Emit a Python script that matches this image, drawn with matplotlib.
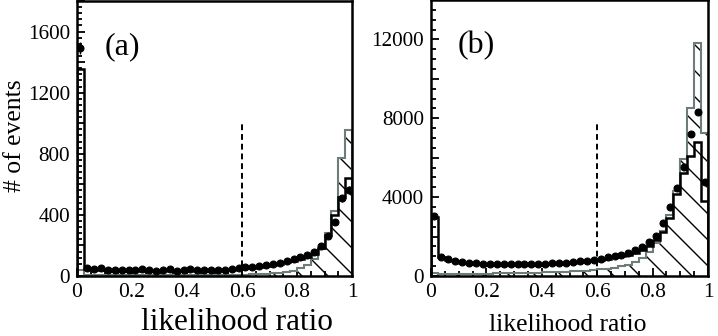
import matplotlib

matplotlib.use("Agg")

import matplotlib.pyplot as plt
import numpy as np
from matplotlib.ticker import FuncFormatter, MultipleLocator


# 40 bins of likelihood ratio, width 0.025
BIN_EDGES = np.linspace(0.0, 1.0, 41)

# panel (a)
DATA_A = [
    1490, 55, 45, 52, 42, 40, 42, 38, 40, 48,
    40, 34, 42, 44, 32, 40, 44, 38, 40, 42,
    40, 42, 48, 52, 62, 58, 65, 70, 78, 88,
    98, 110, 122, 140, 160, 195, 265, 355, 510, 565,
]
TOTAL_A = [
    1355, 45, 40, 42, 38, 36, 38, 35, 36, 40,
    36, 34, 36, 38, 34, 35, 38, 36, 36, 38,
    38, 40, 42, 46, 52, 55, 60, 65, 72, 80,
    90, 100, 112, 125, 145, 185, 270, 400, 520, 640,
]
SIGNAL_A = [
    40, 6, 6, 6, 6, 6, 6, 6, 6, 6,
    6, 6, 6, 6, 6, 6, 6, 6, 6, 6,
    6, 7, 7, 8, 9, 10, 12, 14, 17, 20,
    25, 32, 50, 75, 110, 180, 280, 425, 775, 955,
]

# panel (b)
DATA_B = [
    3050, 980, 850, 770, 710, 670, 640, 620, 605, 600,
    595, 590, 590, 595, 600, 610, 625, 640, 660, 680,
    710, 740, 780, 830, 880, 940, 1010, 1090, 1180, 1300,
    1460, 1700, 2050, 2700, 3500, 4450, 5550, 7200, 8300, 4750,
]
TOTAL_B = [
    3000, 950, 820, 740, 680, 640, 610, 590, 575, 570,
    565, 560, 560, 565, 570, 580, 595, 610, 630, 650,
    675, 705, 740, 780, 830, 880, 940, 1010, 1090, 1190,
    1330, 1530, 1820, 2250, 2950, 4150, 5200, 6070, 6800, 3780,
]
SIGNAL_B = [
    160, 110, 105, 105, 108, 112, 116, 120, 125, 130,
    136, 142, 150, 158, 166, 175, 185, 196, 208, 222,
    238, 256, 276, 300, 330, 370, 420, 490, 580, 710,
    900, 1200, 1650, 2300, 3100, 4300, 5950, 8520, 11800, 7250,
]

CUT_VALUE = 0.6
GRAY = "#6f7c7c"

# render at 78 dpi so a single hatch gives the denser line spacing of the
# original; every point size is scaled to keep pixel sizes unchanged
DPI = 78
S = 100 / DPI

plt.rcParams["font.family"] = ["Liberation Serif", "DejaVu Serif"]
plt.rcParams["hatch.linewidth"] = 1.0 * S


def draw_panel(axis, data, total, signal, ymax, cut_top, major, minor, label_step, tag):
    """Histogram panel with hatched signal, total outline and data points."""

    centers = 0.5 * (BIN_EDGES[:-1] + BIN_EDGES[1:])
    data = np.asarray(data, dtype=float)

    axis.stairs(signal, BIN_EDGES, fill=True, facecolor="none",
                edgecolor="black", hatch="\\", linewidth=0, zorder=1)
    axis.stairs(signal, BIN_EDGES, color=GRAY, linewidth=1.5 * S, zorder=2)
    axis.stairs(total, BIN_EDGES, color="black", linewidth=1.8 * S, zorder=3)
    axis.errorbar(centers, data, yerr=np.sqrt(data), fmt="o", color="black",
                  markersize=5 * S, elinewidth=1.0 * S, capsize=0, zorder=4)

    axis.plot([CUT_VALUE, CUT_VALUE], [0, cut_top], color="black",
              linestyle=(0, (3, 2)), linewidth=1.4 * S, zorder=5)

    axis.set_xlim(0, 1)
    axis.set_ylim(0, ymax)

    axis.xaxis.set_major_locator(MultipleLocator(0.2))
    axis.xaxis.set_minor_locator(MultipleLocator(0.05))
    axis.yaxis.set_major_locator(MultipleLocator(major))
    axis.yaxis.set_minor_locator(MultipleLocator(minor))
    axis.xaxis.set_major_formatter(FuncFormatter(lambda v, p: f"{v:g}"))
    axis.yaxis.set_major_formatter(FuncFormatter(
        lambda v, p: f"{v:.0f}" if round(v) % label_step == 0 else ""))

    axis.tick_params(which="both", direction="in", top=False, right=False,
                     width=1.3 * S, pad=5 * S)
    axis.tick_params(axis="x", labelsize=15.5 * S)
    axis.tick_params(axis="y", labelsize=15.2 * S)
    axis.tick_params(which="major", length=6 * S)
    axis.tick_params(which="minor", length=3.5 * S)
    for spine in axis.spines.values():
        spine.set_linewidth(1.8 * S)

    axis.text(0.165, 0.835, tag, transform=axis.transAxes, fontsize=23 * S,
              ha="center", va="center")


def main():
    fig = plt.figure(figsize=(718 / DPI, 336 / DPI), dpi=DPI)
    ax_a = fig.add_axes([77 / 718, 1 - 276 / 336, 275 / 718, 275 / 336])
    ax_b = fig.add_axes([431 / 718, 1 - 276 / 336, 277 / 718, 276 / 336])

    draw_panel(ax_a, DATA_A, TOTAL_A, SIGNAL_A, 1800, 1000, 200, 40, 400, "(a)")
    draw_panel(ax_b, DATA_B, TOTAL_B, SIGNAL_B, 14000, 7800, 2000, 500, 4000, "(b)")

    fig.text(15 / 718, 1 - 136 / 336, "# of events", rotation=90,
             fontsize=18.5 * S, ha="center", va="center")
    fig.text(237 / 718, 1 - 330 / 336, "likelihood ratio",
             fontsize=22.5 * S, ha="center", va="baseline")
    fig.text(568 / 718, 1 - 331 / 336, "likelihood ratio",
             fontsize=18.5 * S, ha="center", va="baseline")

    fig.savefig("out.png", dpi=DPI)
    plt.close(fig)


if __name__ == "__main__":
    main()
